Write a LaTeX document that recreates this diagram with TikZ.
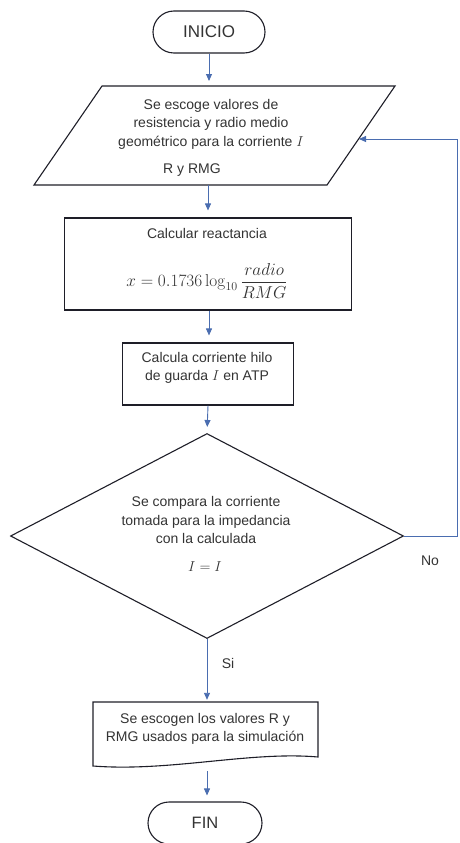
\documentclass[tikz,border=0pt]{standalone}
\usepackage[no-math]{fontspec}
\setmainfont{Liberation Sans}
\usetikzlibrary{arrows.meta,shapes.geometric,calc}
\definecolor{arrowblue}{HTML}{4A6DB0}
\definecolor{outline}{HTML}{1E1E28}
\definecolor{txt}{HTML}{333333}
\begin{document}
\begin{tikzpicture}[x=1pt,y=-1pt,
  shapeline/.style={draw=outline, line width=1.1pt},
  terminal/.style={shapeline, rounded corners=21pt, minimum height=42pt, inner sep=0pt, text=txt},
  boxnode/.style={shapeline, inner sep=0pt},
  lbl/.style={inner sep=0pt, align=center, text=txt, font=\fontsize{14}{18.5}\selectfont},
  flow/.style={draw=arrowblue, line width=0.9pt, -{Triangle[length=7pt,width=6pt]}},
]
\useasboundingbox (0,0) rectangle (459,843);

% start
\node[terminal, minimum width=112pt, font=\fontsize{17}{20}\selectfont] (ini) at (209,32) {INICIO};

% input parallelogram
\coordinate (pa) at (102,86);
\coordinate (pb) at (395,86);
\coordinate (pc) at (327,185);
\coordinate (pd) at (34,185);
\draw[shapeline] (pa) -- (pb) -- (pc) -- (pd) -- cycle;
\coordinate (ptop) at (209,86);
\coordinate (pbot) at (208,185);
\coordinate (pin) at (359,139);
\node[lbl] (t1) at (211,124) {Se escoge valores de\\resistencia y radio medio\\geométrico para la corriente $I$};
\node[lbl] (t2) at (192,170) {R y RMG};

% reactance box
\node[boxnode, minimum width=287pt, minimum height=92pt] (calc) at (208,264) {};
\node[lbl] (t3) at (207,233) {Calcular reactancia};
\node[inner sep=0pt, text=txt, font=\fontsize{17}{20}\selectfont] (t4) at (207,281) {$\displaystyle x = 0.1736\log_{10}\frac{radio}{RMG}$};

% current box
\node[boxnode, minimum width=171pt, minimum height=62pt] (hilo) at (208,374) {};
\node[lbl] (t5) at (207,368) {Calcula corriente hilo\\de guarda $I$ en ATP};

% decision
\node[draw=outline, line width=1.1pt, diamond, minimum width=393pt, minimum height=205pt, inner sep=0pt] (dec) at (207,536) {};
\node[lbl] (t6) at (206,520) {Se compara la corriente\\tomada para la impedancia\\con la calculada};
\node[inner sep=0pt, text=txt, font=\fontsize{15}{18}\selectfont] (t7) at (205,567) {$I = I$};
\node[lbl] (no) at (430,561) {No};
\node[lbl] (si) at (228,663) {Si};

% document
\draw[shapeline] (93,702) -- (318,702) -- (318,757) .. controls (250,751) and (170,772) .. (93,766) -- cycle;
\node[inner sep=0pt, minimum width=225pt, minimum height=64pt] (doc) at (205.5,734) {};
\node[lbl] (t8) at (205,729) {Se escogen los valores R y\\RMG usados para la simulación};
\coordinate (dout) at (207,771);

% end
\node[terminal, minimum width=114pt, font=\fontsize{16.5}{20}\selectfont] (fin) at (205,823) {FIN};

% connectors
\draw[flow, shorten >=5pt] (ini) -- (ptop);
\draw[flow, shorten >=7pt] (pbot) -- (pbot |- calc.north);
\draw[flow, shorten >=7pt] (calc.south -| 209,0) -- (hilo.north -| 209,0);
\draw[flow, shorten >=6pt] (hilo.south) -- (dec.north);
\draw[flow, shorten >=2pt] (dec.south) -- (dec.south |- doc.north);
\draw[flow, shorten >=6pt] (dout) -- (dout |- fin.north);
\coordinate (fb) at (457,536);
\draw[flow] (dec.east) -- (fb) |- (pin);
\end{tikzpicture}
\end{document}
